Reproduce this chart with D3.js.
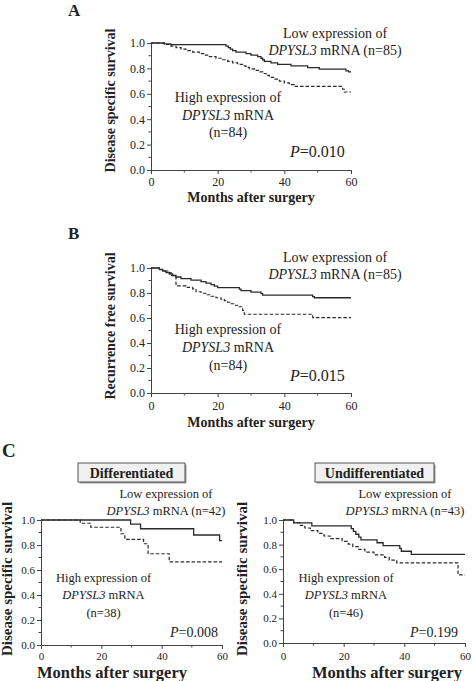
<!DOCTYPE html>
<html><head><meta charset="utf-8">
<script src="https://cdn.jsdelivr.net/npm/d3@7"></script>
<style>
body{margin:0;background:#fff}
svg{display:block}
text{font-family:"Liberation Serif","Times New Roman",serif;fill:#222}
</style>
</head><body>
<svg id="chart" width="472" height="681"></svg>
<script>
// ---- data ----
const xTickValues = [0, 20, 40, 60];
const xMinorTicks = [10, 30, 50];
const yTickValues = [0, 0.2, 0.4, 0.6, 0.8, 1.0];
const yMinorTicks = [0.1, 0.3, 0.5, 0.7, 0.9];
const panelLetters = ["A", "B", "C"];
const subgroupTitles = ["Differentiated", "Undifferentiated"];
const yTitles = ["Disease specific survival", "Recurrence free survival", "Disease specific survival", "Disease specific survival"];
const xTitle = "Months after surgery";
const lowN = [85, 85, 42, 43];
const highN = [84, 84, 38, 46];
const pValues = ["0.010", "0.015", "0.008", "0.199"];

// [month, survival] step points
const dssLowAll = [[0,1],[4,0.993],[6,0.987],[22.5,0.975],[23.2,0.963],[23.8,0.951],[24.5,0.94],[25.5,0.928],[28.5,0.916],[30,0.904],[32,0.892],[33,0.88],[33.5,0.868],[34,0.856],[36,0.844],[38,0.832],[42,0.82],[47,0.806],[50.5,0.794],[58.5,0.78],[59.3,0.772],[60,0.772]];
const dssHighAll = [[0,1],[4,0.988],[6,0.976],[7.5,0.964],[9,0.952],[10.5,0.94],[12.5,0.928],[14.5,0.916],[16,0.904],[17.5,0.892],[19.5,0.88],[21.5,0.868],[23,0.856],[24.5,0.844],[26,0.832],[27.5,0.82],[28.5,0.808],[29.5,0.796],[31,0.784],[32.5,0.772],[33.5,0.76],[34.5,0.745],[35.5,0.73],[37,0.716],[38.5,0.70],[40,0.686],[41.5,0.672],[43,0.658],[57.5,0.636],[58,0.614],[60,0.614]];
const rfsLowAll = [[0,1],[2.5,0.988],[3.5,0.976],[4.5,0.964],[5.5,0.952],[6.5,0.94],[7.5,0.928],[9,0.915],[12,0.903],[15,0.891],[16.5,0.879],[18,0.867],[19,0.855],[20,0.843],[26.5,0.831],[27,0.819],[30,0.807],[33,0.795],[33.5,0.783],[48.5,0.771],[49,0.762],[60,0.762]];
const rfsHighAll = [[0,1],[2.5,0.988],[3.5,0.976],[5,0.964],[6,0.94],[7.5,0.857],[10.5,0.845],[12.5,0.833],[13.5,0.81],[15,0.798],[16.5,0.786],[18,0.774],[19.5,0.762],[21,0.75],[22,0.738],[23,0.726],[24,0.714],[25,0.702],[26.5,0.69],[27.5,0.66],[28,0.63],[48.5,0.603],[60,0.603]];
const dssLowDiff = [[0,1],[29.7,0.967],[33,0.93],[50.6,0.88],[59.2,0.835],[60,0.835]];
const dssHighDiff = [[0,1],[13,0.974],[16.5,0.942],[26.5,0.89],[27.8,0.845],[34,0.81],[35.5,0.73],[42.5,0.665],[60,0.665]];
const dssLowUndiff = [[0,1],[3.5,0.977],[9.5,0.953],[22.5,0.93],[23.2,0.907],[24,0.884],[25,0.861],[25.7,0.838],[31,0.815],[33,0.792],[38.5,0.769],[39,0.746],[42.3,0.72],[60,0.72]];
const dssHighUndiff = [[0,1],[3.5,0.978],[5.5,0.957],[7.2,0.935],[9,0.913],[11.5,0.891],[13.5,0.87],[15.5,0.848],[19.5,0.826],[21.5,0.804],[23,0.783],[25,0.761],[27,0.739],[30,0.717],[33.5,0.696],[35,0.674],[37.5,0.652],[57.7,0.554],[60,0.554]];

// ---- layout ----
const svg = d3.select("#chart");
const ink = "#2a2a2a";

const panels = [
  {low: dssLowAll, high: dssHighAll, x0:151, x1:351, yTop:43, yBot:170,
   tickFont:12, xTickBase:186, titleFont:14, xTitleCx:251, xTitleBase:202,
   yTitleX:115, yTitleCy:100.5, yTitleFont:14,
   legFont:14, lowCx:335, lowY:[38,55], highCx:228, highY:[102,120,137], pFont:16, pX:290, pY:157},
  {low: rfsLowAll, high: rfsHighAll, x0:151, x1:351, yTop:268, yBot:393,
   tickFont:12, xTickBase:410, titleFont:14, xTitleCx:251, xTitleBase:427,
   yTitleX:115, yTitleCy:326, yTitleFont:14,
   legFont:14, lowCx:335, lowY:[262,279], highCx:228, highY:[334,352,370], pFont:16, pX:290, pY:381},
  {low: dssLowDiff, high: dssHighDiff, x0:41, x1:222, yTop:520, yBot:645,
   tickFont:11, xTickBase:659.5, titleFont:16.5, xTitleCx:112, xTitleBase:678,
   yTitleX:12, yTitleCy:579, yTitleFont:15,
   legFont:12.5, lowCx:166, lowY:[498,515], highCx:103.5, highY:[582,599,617], pFont:14, pX:170, pY:637},
  {low: dssLowUndiff, high: dssHighUndiff, x0:283, x1:465, yTop:520, yBot:643,
   tickFont:11, xTickBase:659.5, titleFont:16.5, xTitleCx:387, xTitleBase:678,
   yTitleX:247, yTitleCy:579, yTitleFont:15,
   legFont:12.5, lowCx:405, lowY:[498,515], highCx:346, highY:[582,599,617], pFont:14, pX:410, pY:637}
];

panels.forEach((p, i) => {
  const x = d3.scaleLinear().domain([0, 60]).range([p.x0, p.x1]);
  const y = d3.scaleLinear().domain([0, 1]).range([p.yBot, p.yTop]);
  const g = svg.append("g");

  // axes
  const yAxis = d3.axisLeft(y).tickValues(yTickValues).tickFormat(d3.format(".1f")).tickSize(4).tickPadding(2);
  const gy = g.append("g").attr("transform", `translate(${p.x0},0)`).call(yAxis);
  const xAxis = d3.axisBottom(x).tickValues(xTickValues).tickFormat(d3.format("d")).tickSize(4).tickPadding(2);
  const gx = g.append("g").attr("transform", `translate(0,${p.yBot})`).call(xAxis);
  [gx, gy].forEach(a => {
    a.select(".domain").attr("stroke", "#444").attr("stroke-width", 1);
    a.selectAll(".tick line").attr("stroke", "#444");
    a.selectAll("text").attr("font-size", p.tickFont).attr("fill", "#333")
      .attr("font-family", '"Liberation Serif","Times New Roman",serif');
  });
  gx.selectAll("text").attr("y", p.xTickBase - p.yBot).attr("dy", null);
  // minor ticks
  g.append("g").selectAll("line").data(yMinorTicks).join("line")
    .attr("x1", p.x0 - 2.5).attr("x2", p.x0).attr("y1", d => y(d)).attr("y2", d => y(d)).attr("stroke", "#444");
  g.append("g").selectAll("line").data(xMinorTicks).join("line")
    .attr("y1", p.yBot).attr("y2", p.yBot + 2.5).attr("x1", d => x(d)).attr("x2", d => x(d)).attr("stroke", "#444");

  // curves
  const line = d3.line().x(d => x(d[0])).y(d => y(d[1])).curve(d3.curveStepAfter);
  g.append("path").datum(p.low).attr("d", line).attr("fill", "none").attr("stroke", ink).attr("stroke-width", 1.3);
  g.append("path").datum(p.high).attr("d", line).attr("fill", "none").attr("stroke", ink).attr("stroke-width", 1.2).attr("stroke-dasharray", "3.5,2");

  // axis titles
  g.append("text").attr("x", p.xTitleCx).attr("y", p.xTitleBase).attr("text-anchor", "middle")
    .attr("font-weight", "bold").attr("font-size", p.titleFont).text(xTitle);
  g.append("text").attr("transform", `translate(${p.yTitleX},${p.yTitleCy}) rotate(-90)`).attr("text-anchor", "middle")
    .attr("font-weight", "bold").attr("font-size", p.yTitleFont).text(yTitles[i]);

  // legends
  g.append("text").attr("x", p.lowCx).attr("y", p.lowY[0]).attr("text-anchor", "middle").attr("font-size", p.legFont).text("Low expression of");
  const lt2 = g.append("text").attr("x", p.lowCx).attr("y", p.lowY[1]).attr("text-anchor", "middle").attr("font-size", p.legFont);
  lt2.append("tspan").attr("font-style", "italic").text("DPYSL3");
  lt2.append("tspan").text(` mRNA (n=${lowN[i]})`);
  g.append("text").attr("x", p.highCx).attr("y", p.highY[0]).attr("text-anchor", "middle").attr("font-size", p.legFont).text("High expression of");
  const ht2 = g.append("text").attr("x", p.highCx).attr("y", p.highY[1]).attr("text-anchor", "middle").attr("font-size", p.legFont);
  ht2.append("tspan").attr("font-style", "italic").text("DPYSL3");
  ht2.append("tspan").text(" mRNA");
  g.append("text").attr("x", p.highCx).attr("y", p.highY[2]).attr("text-anchor", "middle").attr("font-size", p.legFont).text(`(n=${highN[i]})`);
  const pt = g.append("text").attr("x", p.pX).attr("y", p.pY).attr("font-size", p.pFont);
  pt.append("tspan").attr("font-style", "italic").text("P");
  pt.append("tspan").text(`=${pValues[i]}`);
});

// panel letters
const letterPos = [[68, 16, 17], [68, 239, 17], [2, 457, 19]];
panelLetters.forEach((l, i) => {
  svg.append("text").attr("x", letterPos[i][0]).attr("y", letterPos[i][1]).attr("font-weight", "bold")
    .attr("font-size", letterPos[i][2]).attr("fill", "#111").text(l);
});

// subgroup boxes
const boxes = [[78, 463, 107, 19], [315, 463, 119, 19]];
subgroupTitles.forEach((t, i) => {
  const b = boxes[i];
  svg.append("rect").attr("x", b[0] + 1.5).attr("y", b[1] + 1.5).attr("width", b[2]).attr("height", b[3]).attr("fill", "#9a9a9a");
  svg.append("rect").attr("x", b[0]).attr("y", b[1]).attr("width", b[2]).attr("height", b[3])
    .attr("fill", "#f0f0f0").attr("stroke", "#555").attr("stroke-width", 1);
  svg.append("text").attr("x", b[0] + b[2] / 2).attr("y", b[1] + 14.5).attr("text-anchor", "middle")
    .attr("font-weight", "bold").attr("font-size", 14).text(t);
});
</script>
</body></html>
